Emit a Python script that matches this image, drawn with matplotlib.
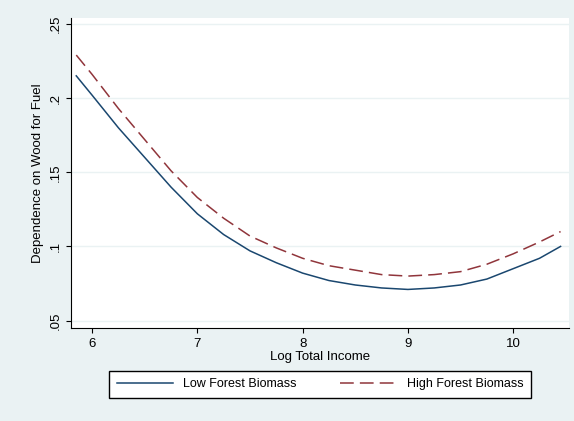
import matplotlib.pyplot as plt

plt.rcParams["font.family"] = ["Liberation Sans", "DejaVu Sans"]

income = [5.85, 6.0, 6.25, 6.5, 6.75, 7.0, 7.25, 7.5, 7.75, 8.0, 8.25, 8.5, 8.75,
          9.0, 9.25, 9.5, 9.75, 10.0, 10.25, 10.45]
low_biomass = [0.215, 0.202, 0.180, 0.160, 0.140, 0.122, 0.108, 0.097, 0.089, 0.082,
               0.077, 0.074, 0.072, 0.071, 0.072, 0.074, 0.078, 0.085, 0.092, 0.100]
high_biomass = [0.229, 0.216, 0.193, 0.172, 0.151, 0.133, 0.119, 0.107, 0.099, 0.092,
                0.087, 0.084, 0.081, 0.080, 0.081, 0.083, 0.088, 0.095, 0.103, 0.110]
xticks = [6, 7, 8, 9, 10]
yticks = [0.05, 0.10, 0.15, 0.20, 0.25]
ylabels = [".05", ".1", ".15", ".2", ".25"]

fig = plt.figure(figsize=(5.74, 4.21), dpi=100, facecolor="#eaf2f3")
ax = fig.add_axes([71/574, 1 - 328/421, 498/574, 310/421])
ax.set_facecolor("white")

ax.plot(income, low_biomass, color="#1a476f", lw=1.1, label="Low Forest Biomass")
ax.plot(income, high_biomass, color="#90353b", lw=1.1, dashes=(9, 4), label="High Forest Biomass")

ax.set_xlim(5.8, 10.53)
ax.set_ylim(0.045, 0.254)
ax.set_xticks(xticks)
ax.set_yticks(yticks)
ax.set_yticklabels(ylabels, rotation=90, va="center")
ax.grid(axis="y", color="#eaf2f3", lw=1)
ax.set_axisbelow(True)
for s in ["top", "right"]:
    ax.spines[s].set_visible(False)
ax.tick_params(labelsize=9.5)
ax.set_xlabel("Log Total Income", fontsize=9.5, labelpad=1)
ax.set_ylabel("Dependence on Wood for Fuel", fontsize=9.5)

fig.legend(loc="center", bbox_to_anchor=(320/574, 1 - 384/421), ncol=2,
           fancybox=False, edgecolor="black", framealpha=1, fontsize=9,
           handlelength=4.5, columnspacing=3.5, borderpad=0.6)

fig.savefig("out.png", dpi=100, facecolor=fig.get_facecolor())
